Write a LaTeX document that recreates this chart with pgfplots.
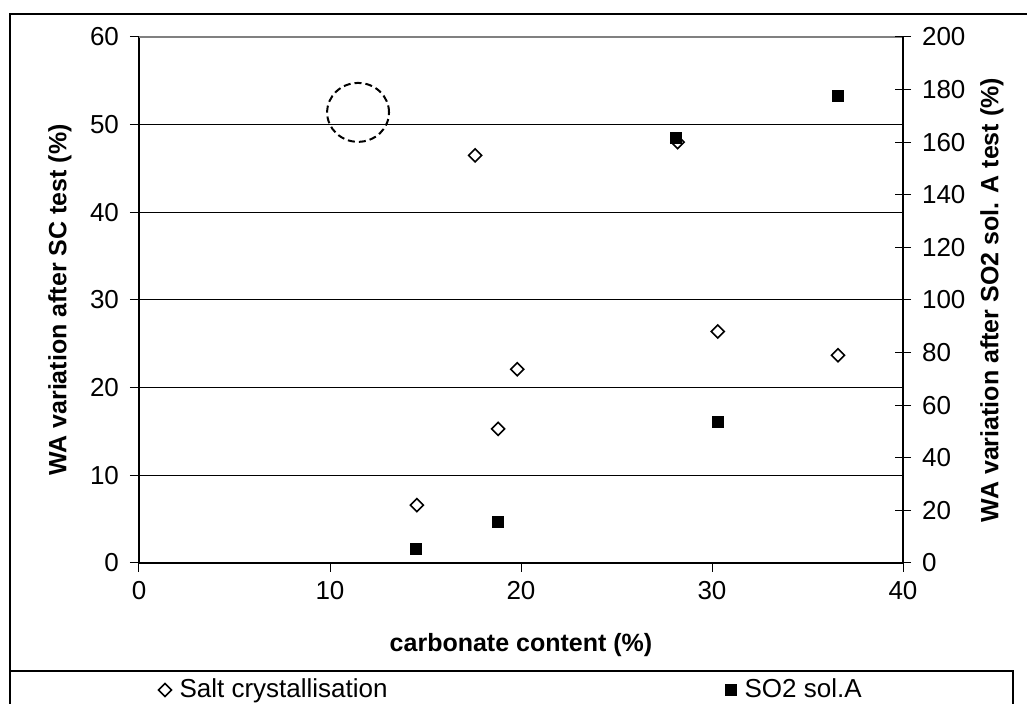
\documentclass[border=0pt]{standalone}
\usepackage{fontspec}
\setmainfont{Liberation Sans}
\usepackage{pgfplots}
\pgfplotsset{compat=1.18}
\begin{document}
\begin{tikzpicture}
\pgfplotsset{
  base/.style={
    scale only axis, width=382pt, height=263pt,
    xmin=0, xmax=40,
    /pgf/number format/assume math mode=true,
    ticklabel style={font=\fontsize{13}{15}\selectfont},
    label style={font=\fontsize{12.5}{15}\selectfont\bfseries},
    tick style={black, line width=0.5pt},
    axis line style={line width=0.6pt},
  }
}
\begin{axis}[base,
  axis x line*=bottom, axis y line*=left,
  ymin=0, ymax=60, ytick={0,10,...,60},
  xtick={0,10,...,40},
  tick align=outside, major tick length=4.5pt,
  ymajorgrids, grid style={black, line width=0.5pt},
  yticklabel style={xshift=-2pt},
  xticklabel style={yshift=-1pt},
  xlabel={carbonate content (\%)},
  ylabel={WA variation after SC test (\%)},
  xlabel style={at={(axis description cs:0.5,-0.156)}, anchor=center},
  ylabel style={at={(axis description cs:-0.1034,0.5)}, anchor=center},
]
\addplot[only marks, mark=square, mark size=2.3pt, mark options={rotate=45, fill=white, line width=0.8pt, black}]
  coordinates {(14.55,6.6) (17.6,46.5) (18.8,15.3) (19.8,22.1) (28.2,48.0) (30.3,26.4) (36.6,23.7)};
\draw[gray, line width=1pt] (rel axis cs:0,1) -- (rel axis cs:1,1);
\draw[black, line width=1pt, dash pattern=on 3.5pt off 2pt] (axis cs:11.47,51.4) ellipse [x radius=1.62, y radius=3.36];
\end{axis}
\begin{axis}[base,
  axis x line=none, axis y line*=right,
  ymin=0, ymax=200, ytick={0,20,...,200},
  tick align=center, major tick length=8pt,
  yticklabel style={xshift=2pt},
  ylabel={WA variation after SO2 sol. A test (\%)},
  ylabel style={at={(axis description cs:1.1165,0.5)}, anchor=center},
  legend columns=2,
  legend style={draw=none, fill=none, at={(axis description cs:0.025,-0.2414)}, anchor=west,
    font=\fontsize{13}{15}\selectfont, inner sep=0pt,
    /tikz/every odd column/.append style={column sep=2pt},
    /tikz/every even column/.append style={column sep=167pt}},
  legend image code/.code={\draw[#1] plot coordinates {(0pt,0pt)};},
]
\addlegendimage{only marks, mark=square, mark size=2.3pt, mark options={rotate=45, fill=white, line width=0.8pt, black}}
\addlegendentry{Salt crystallisation}
\addplot[only marks, mark=square*, mark size=2.75pt, black]
  coordinates {(14.5,5.2) (18.8,15.5) (28.1,161.6) (30.3,53.6) (36.6,177.6)};
\addlegendentry{SO2 sol.A}
\end{axis}
\begin{scope}
\clip (-69.5pt,-70.5pt) rectangle (444pt,281.5pt);
\draw[line width=1pt] (-64.5pt,-80pt) -- (-64.5pt,274.5pt) -- (460pt,274.5pt);
\draw[line width=1pt] (-64.5pt,-54pt) -- (437pt,-54pt) -- (437pt,-80pt);
\end{scope}
\pgfresetboundingbox
\path[use as bounding box] (-69.5pt,-70.5pt) rectangle (444pt,281.5pt);
\end{tikzpicture}
\end{document}
